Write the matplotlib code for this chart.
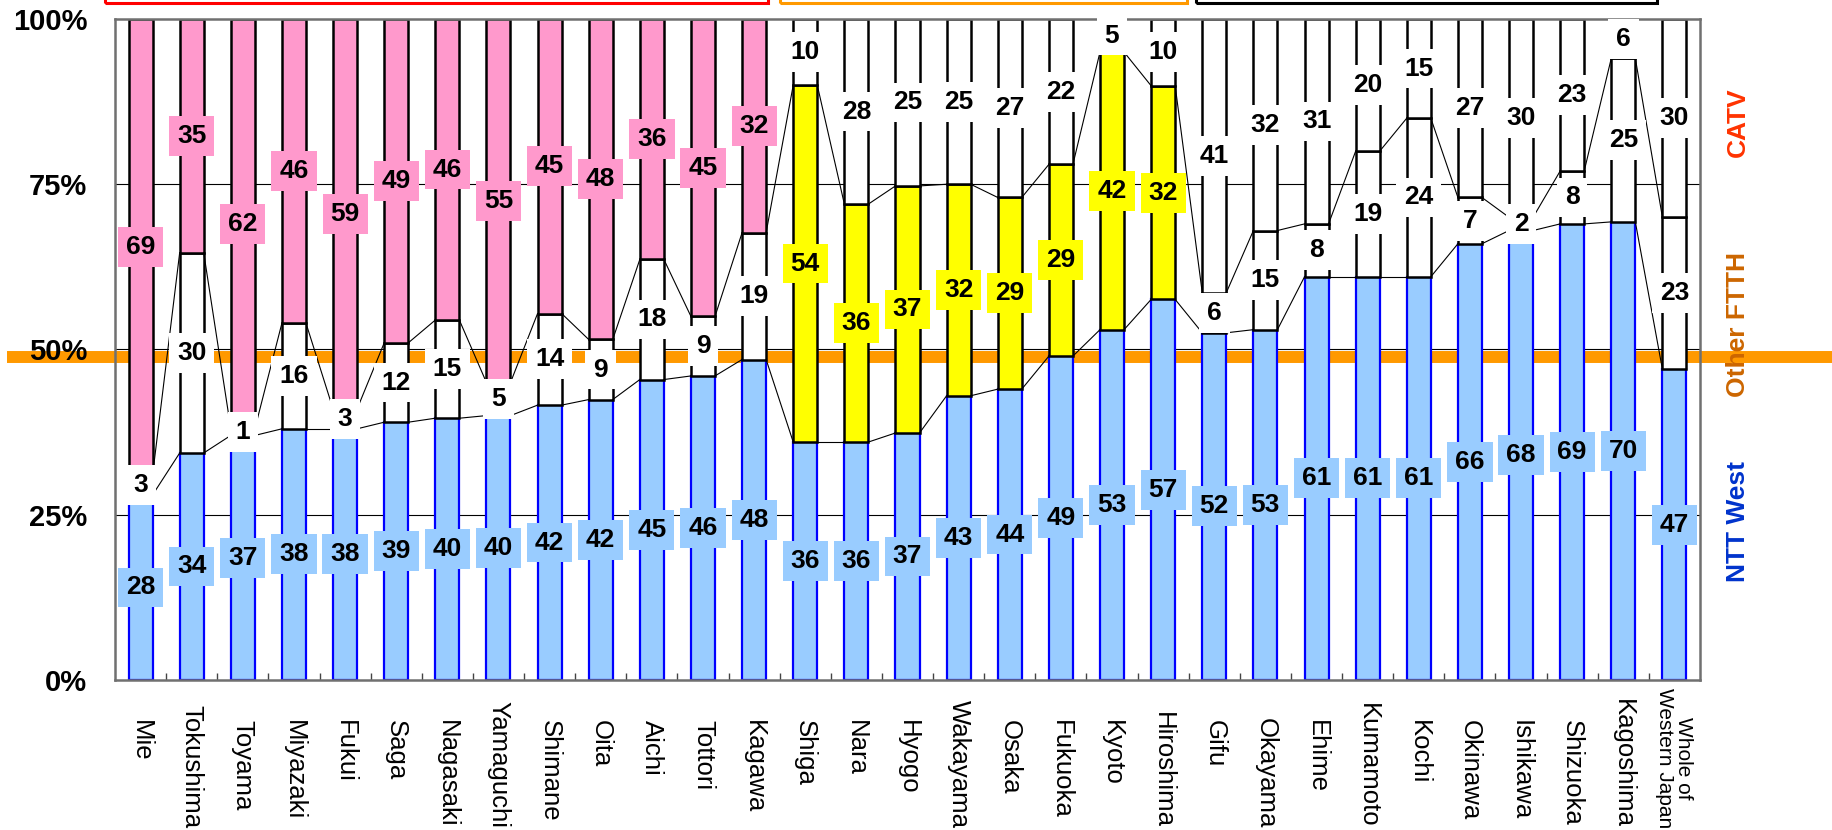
import matplotlib
matplotlib.use('Agg')
import numpy as np
import matplotlib.pyplot as plt
import matplotlib.transforms as mtransforms
from matplotlib.patches import Rectangle

plt.rcParams['font.family'] = ['Liberation Sans', 'DejaVu Sans']

# prefectures, grouped (red box / orange box / black box) + whole area
prefs = ['Mie', 'Tokushima', 'Toyama', 'Miyazaki', 'Fukui', 'Saga', 'Nagasaki',
         'Yamaguchi', 'Shimane', 'Oita', 'Aichi', 'Tottori', 'Kagawa',
         'Shiga', 'Nara', 'Hyogo', 'Wakayama', 'Osaka', 'Fukuoka', 'Kyoto', 'Hiroshima',
         'Gifu', 'Okayama', 'Ehime', 'Kumamoto', 'Kochi', 'Okinawa', 'Ishikawa',
         'Shizuoka', 'Kagoshima', 'Whole of\nWestern Japan']
group = ['red'] * 13 + ['orange'] * 8 + ['black'] * 10

ntt = [28, 34, 37, 38, 38, 39, 40, 40, 42, 42, 45, 46, 48,
       36, 36, 37, 43, 44, 49, 53, 57,
       52, 53, 61, 61, 61, 66, 68, 69, 70, 47]
other = [3, 30, 1, 16, 3, 12, 15, 5, 14, 9, 18, 9, 19,
         54, 36, 37, 32, 29, 29, 42, 32,
         6, 15, 8, 19, 24, 7, 2, 8, 25, 23]
catv = [69, 35, 62, 46, 59, 49, 46, 55, 45, 48, 36, 45, 32,
        10, 28, 25, 25, 27, 22, 5, 10,
        41, 32, 31, 20, 15, 27, 30, 23, 6, 30]

BLUE = '#99CCFF'
PINK = '#FF99CC'
YELLOW = '#FFFF00'

other_col = [YELLOW if g == 'orange' else 'white' for g in group]
catv_col = [PINK if g == 'red' else 'white' for g in group]

fig = plt.figure(figsize=(18.32, 8.30), dpi=100)
ax = fig.add_axes([115 / 1832, 150 / 830, 1585 / 1832, 661 / 830])

x = np.arange(len(prefs))
a1, a2, a3 = np.array(ntt, float), np.array(other, float), np.array(catv, float)
tot = a1 + a2 + a3
h1, h2, h3 = a1 / tot * 100, a2 / tot * 100, a3 / tot * 100
b2 = h1
b3 = h1 + h2
w = 0.47

ax.bar(x, h1, w, color=BLUE, edgecolor='#0000FF', linewidth=1.6, zorder=2)
ax.bar(x, h2, w, bottom=b2, color=other_col, edgecolor='black', linewidth=1.8, zorder=2)
ax.bar(x, h3, w, bottom=b3, color=catv_col, edgecolor='black', linewidth=1.8, zorder=2)

# series lines between bars
for lev in (b2, b3):
    for i in range(len(x) - 1):
        ax.plot([x[i] + w / 2, x[i + 1] - w / 2], [lev[i], lev[i + 1]],
                color='black', lw=0.8, zorder=2.2)

# value labels
def lab(xi, y, v, fc):
    ax.text(xi, y, str(v), ha='center', va='center', fontsize=19, fontweight='bold',
            zorder=6, bbox=dict(boxstyle='square,pad=0.3', fc=fc, ec='none'))

for i in range(len(x)):
    lab(x[i], h1[i] / 2, ntt[i], BLUE)
    lab(x[i], b2[i] + h2[i] / 2, other[i], other_col[i])
    lab(x[i], b3[i] + h3[i] / 2, catv[i], catv_col[i])

# grid + orange 50% band
for g in (25, 50, 75):
    ax.axhline(g, color='black', lw=0.8, zorder=0.9)
trans = mtransforms.blended_transform_factory(ax.transAxes, ax.transData)
ax.plot([-0.068, 1.085], [48.9, 48.9], transform=trans, color='#FF9900', lw=8.6,
        solid_capstyle='butt', clip_on=False, zorder=1)

ax.set_xlim(-0.5, len(x) - 0.5)
ax.set_ylim(0, 100)
ax.set_yticks([0, 25, 50, 75, 100])
ax.set_yticklabels(['0%', '25%', '50%', '75%', '100%'], fontsize=21, fontweight='bold')
ax.tick_params(axis='y', length=0, pad=20)
ax.set_xticks([])
ax.set_xticks(x[:-1] + 0.5, minor=True)
ax.tick_params(axis='x', which='minor', direction='in', length=5, color='#444444', width=1)
for s in ax.spines.values():
    s.set_color('#707070')
    s.set_linewidth(1.8)

# category labels, rotated, pushed up if they run off the bottom
off = mtransforms.ScaledTranslation(0, -40 / 100, fig.dpi_scale_trans)
tr = ax.get_xaxis_transform() + off
texts = []
for i, name in enumerate(prefs):
    fs = 15 if '\n' in name else 18.5
    t = ax.text(x[i], 0, name, transform=tr, rotation=-90, ha='center', va='top',
                fontsize=fs, linespacing=1.0, multialignment='center', clip_on=False)
    texts.append(t)
fig.canvas.draw()
for t in texts:
    bb = t.get_window_extent()
    if bb.y0 < 2:
        t.set_y((2 - bb.y0) / ax.bbox.height)

# group boxes at top
for x0, x1, col in [(105, 768, '#FF0000'), (780, 1187, '#FF9900'), (1196, 1657, 'black')]:
    fig.add_artist(Rectangle((x0 / 1832, 827 / 830), (x1 - x0) / 1832, 0.1,
                             transform=fig.transFigure, fill=False, ec=col, lw=2.2,
                             clip_on=False))

# series names on the right
fig.text(1738 / 1832, 1 - 122 / 830, 'CATV', rotation=90, ha='center', va='center',
         fontsize=19, fontweight='bold', color='#FF3300')
fig.text(1738 / 1832, 1 - 324 / 830, 'Other FTTH', rotation=90, ha='center', va='center',
         fontsize=19, fontweight='bold', color='#CC6600')
fig.text(1738 / 1832, 1 - 522 / 830, 'NTT West', rotation=90, ha='center', va='center',
         fontsize=19, fontweight='bold', color='#0033CC')

fig.savefig('out.png', dpi=100)
